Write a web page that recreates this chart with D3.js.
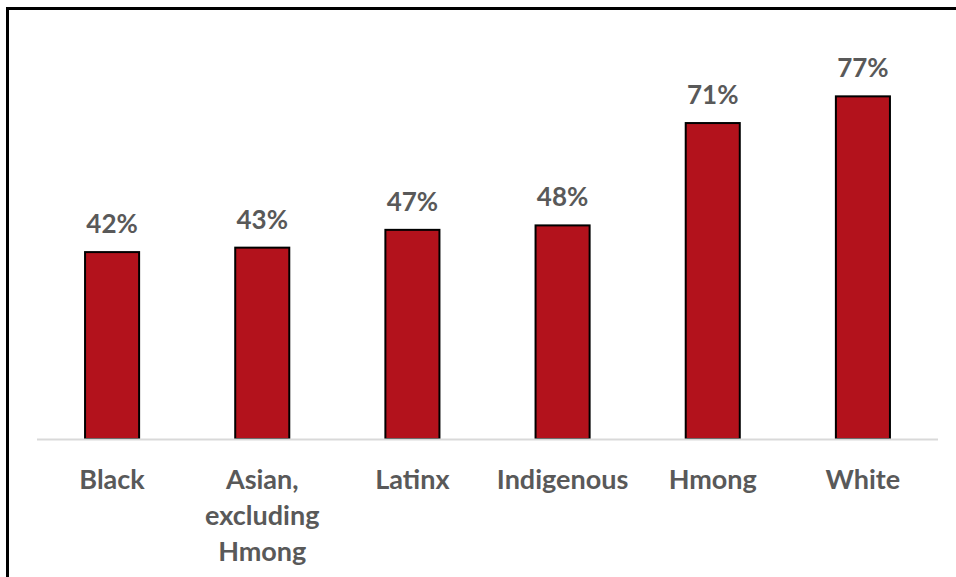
<!DOCTYPE html>
<html>
<head>
<meta charset="utf-8">
<script src="https://cdn.jsdelivr.net/npm/d3@7"></script>
<style>
  body { margin: 0; background: #fff; }
  svg { display: block; }
</style>
</head>
<body>
<div id="chart"></div>
<script>
// Data
const categories = ['Black', 'Asian, excluding Hmong', 'Latinx', 'Indigenous', 'Hmong', 'White'];
const values = [0.42, 0.43, 0.47, 0.48, 0.71, 0.77];

const width = 956;
const height = 577;
const margin = { left: 37, right: 18, baseline: 439 };

const svg = d3.select('#chart')
    .append('svg')
    .attr('width', width)
    .attr('height', height);

// outer frame, runs off the right and bottom edges
svg.append('rect')
    .attr('x', 7.5)
    .attr('y', 8.5)
    .attr('width', width + 20)
    .attr('height', height + 20)
    .attr('fill', 'none')
    .attr('stroke', '#000')
    .attr('stroke-width', 3);

const x = d3.scaleBand()
    .domain(categories)
    .range([margin.left, width - margin.right])
    .paddingInner(0.64)
    .paddingOuter(0.32);

const y = d3.scaleLinear()
    .domain([0, 1])
    .range([margin.baseline, margin.baseline - 445]);

const font = 'Lato, "Open Sans", "Liberation Sans", sans-serif';

// bars
svg.selectAll('rect.bar')
    .data(values)
    .enter().append('rect')
    .attr('class', 'bar')
    .attr('x', (d, i) => x(categories[i]))
    .attr('y', d => y(d))
    .attr('width', x.bandwidth())
    .attr('height', d => y(0) - y(d))
    .attr('fill', '#b3121c')
    .attr('stroke', '#000')
    .attr('stroke-width', 2);

// baseline
svg.append('line')
    .attr('x1', margin.left)
    .attr('x2', width - margin.right)
    .attr('y1', y(0) + 0.5)
    .attr('y2', y(0) + 0.5)
    .attr('stroke', '#d9d9d9')
    .attr('stroke-width', 2);

// value labels
svg.selectAll('text.value')
    .data(values)
    .enter().append('text')
    .attr('class', 'value')
    .attr('x', (d, i) => x(categories[i]) + x.bandwidth() / 2)
    .attr('y', d => y(d) - 19)
    .attr('text-anchor', 'middle')
    .style('font-family', font)
    .style('font-weight', 'bold')
    .style('font-size', '26px')
    .style('fill', '#595959')
    .text(d => Math.round(d * 100) + '%');

// category labels, wrapped to the band step
const labels = svg.selectAll('text.cat')
    .data(categories)
    .enter().append('text')
    .attr('class', 'cat')
    .attr('x', d => x(d) + x.bandwidth() / 2)
    .attr('y', 489)
    .attr('text-anchor', 'middle')
    .style('font-family', font)
    .style('font-weight', 'bold')
    .style('font-size', '27px')
    .style('fill', '#595959');

labels.each(function(d) {
    const text = d3.select(this);
    const words = d.split(' ');
    const maxW = 145;
    let line = [];
    let tspan = text.append('tspan').attr('x', text.attr('x')).attr('dy', 0);
    words.forEach(w => {
        line.push(w);
        tspan.text(line.join(' '));
        if (line.length > 1 && tspan.node().getComputedTextLength() > maxW) {
            line.pop();
            tspan.text(line.join(' '));
            line = [w];
            tspan = text.append('tspan').attr('x', text.attr('x')).attr('dy', 36).text(w);
        }
    });
});
</script>
</body>
</html>
